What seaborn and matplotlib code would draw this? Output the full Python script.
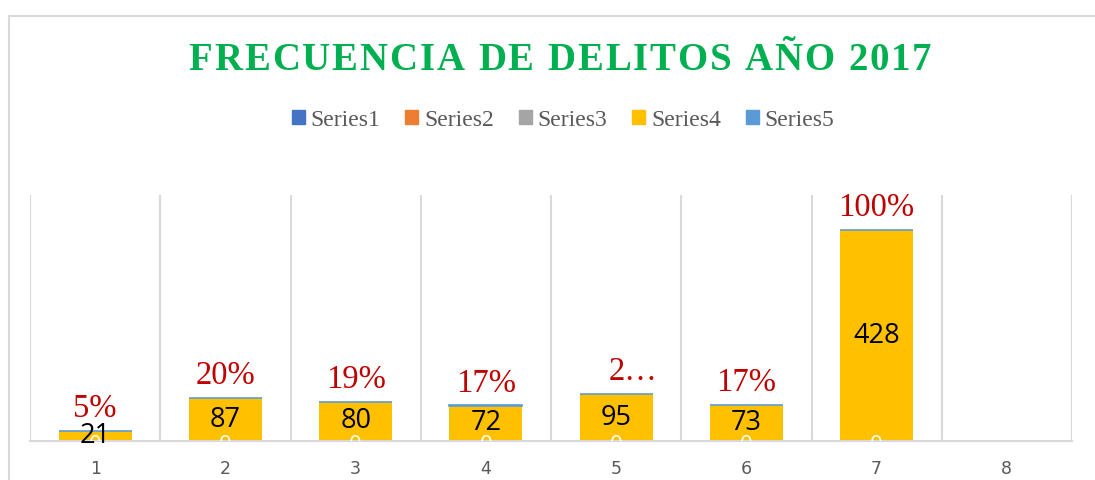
import matplotlib
matplotlib.use("Agg")
import matplotlib.pyplot as plt
import seaborn as sns
import pandas as pd
import numpy as np
from matplotlib.patches import Rectangle

categories = ["1", "2", "3", "4", "5", "6", "7", "8"]
series4 = [21, 87, 80, 72, 95, 73, 428, 0]
series5 = [0.05, 0.20, 0.19, 0.17, 0.22, 0.17, 1.00, 0]
pct_labels = ["5%", "20%", "19%", "17%", "2…", "17%", "100%", ""]
series_names = ["Series1", "Series2", "Series3", "Series4", "Series5"]
series_colors = ["#4472C4", "#ED7D31", "#A5A5A5", "#FFC000", "#5B9BD5"]
title = "FRECUENCIA DE DELITOS AÑO 2017"

sns.set_theme(style="white")
plt.rcParams["font.family"] = ["DejaVu Sans"]

fig = plt.figure(figsize=(10.95, 4.8), dpi=100)
W, H = 1095, 480
ax = fig.add_axes([30 / W, (H - 441) / H, (1072 - 30) / W, (441 - 195) / H])

df = pd.DataFrame({"cat": categories, "Series4": series4})
sns.barplot(data=df, x="cat", y="Series4", color=series_colors[3], width=0.56,
            saturation=1, ax=ax, edgecolor="none")
x = np.arange(len(categories))
ax.bar(x, series5, bottom=series4, width=0.56, color=series_colors[4],
       edgecolor=series_colors[4], linewidth=1.2)

ax.set_xlim(-0.5, len(categories) - 0.5)
ax.set_ylim(0, 500)
ax.set_xlabel("")
ax.set_ylabel("")
ax.set_yticks([])

for b in np.arange(-0.5, len(categories), 1.0):
    ax.axvline(b, color="#D9D9D9", lw=1.5, zorder=0)
for s in ["top", "left", "right"]:
    ax.spines[s].set_visible(False)
ax.spines["bottom"].set_color("#D9D9D9")
ax.spines["bottom"].set_linewidth(1.5)
ax.tick_params(axis="x", length=0, pad=14, labelsize=12.5, labelcolor="#595959")

for i, (v, p) in enumerate(zip(series4, series5)):
    if i < 7:
        ax.annotate("0", (i, 0), xytext=(0, -3), textcoords="offset points",
                    ha="center", va="center", fontsize=16, family="Open Sans",
                    color="white", annotation_clip=True, clip_on=True)
        ax.text(i, v / 2, str(v), ha="center", va="center", fontsize=19.5,
                family="Open Sans", color="black")
    if pct_labels[i]:
        dx = 12 if pct_labels[i].endswith("…") else 0
        ax.annotate(pct_labels[i], (i, v + p), xytext=(dx, 16),
                    textcoords="offset points", ha="center", va="center",
                    fontsize=23.5, family="Liberation Serif", color="#C00000")

# title with letter spacing
fig.canvas.draw()
renderer = fig.canvas.get_renderer()
tprops = dict(fontsize=28, fontweight="bold", family="Liberation Serif",
              color="#00B050", va="center", ha="left")
chars = [fig.text(0, (H - 60) / H, ch, **tprops) for ch in title]
widths = [c.get_window_extent(renderer).width for c in chars]
spacing = 1.9
total = sum(widths) + spacing * (len(chars) - 1)
xpos = (560 - total / 2)
for c, w in zip(chars, widths):
    c.set_x(xpos / W)
    xpos += w + spacing

handles = [Rectangle((0, 0), 1, 1, color=c) for c in series_colors]
leg = fig.legend(handles, series_names, loc="center", ncol=5,
                 bbox_to_anchor=(563 / W, (H - 120) / H), frameon=False,
                 prop={"family": "Liberation Serif", "size": 17},
                 handlelength=0.55, handleheight=0.55, handletextpad=0.25,
                 columnspacing=1.05)
for t in leg.get_texts():
    t.set_color("#595959")

fig.patches.append(Rectangle((9 / W, -0.1), 1.2, (H - 16) / H + 0.1,
                             transform=fig.transFigure, fill=False,
                             edgecolor="#D9D9D9", lw=1.5))

fig.savefig("out.png", dpi=100)
